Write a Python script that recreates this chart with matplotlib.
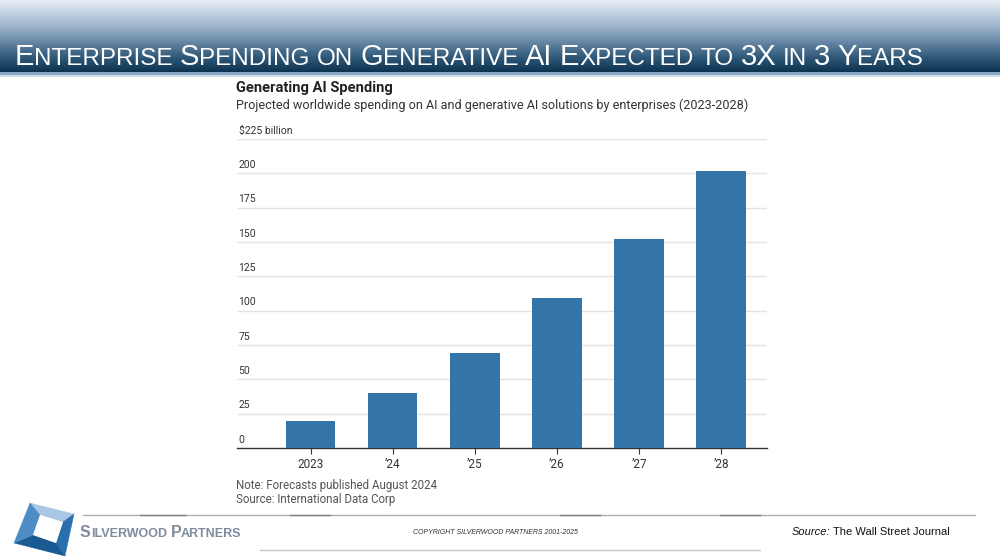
import numpy as np
import matplotlib
matplotlib.use("Agg")
import matplotlib.pyplot as plt
from matplotlib.patches import Polygon, Rectangle
from matplotlib.colors import LinearSegmentedColormap

# data
years = ["2023", "\u201924", "\u201925", "\u201926", "\u201927", "\u201928"]
spending = [20, 40, 69, 109, 152, 202]
y_ticks = [0, 25, 50, 75, 100, 125, 150, 175, 200, 225]
y_tick_labels = ["0", "25", "50", "75", "100", "125", "150", "175", "200", "$225 billion"]

title_parts = [("E", 1), ("NTERPRISE", 0), ("S", 1), ("PENDING", 0), ("ON", 0),
               ("G", 1), ("ENERATIVE", 0), ("AI", 1), ("E", 1), ("XPECTED", 0),
               ("TO", 0), ("3X", 1), ("IN", 0), ("3", 1), ("Y", 1), ("EARS", 0)]
word_break = [False, True, False, True, True, False, True, True, False, True,
              True, True, True, True, False, True]

W, H = 1000, 560
fig = plt.figure(figsize=(10, 5.6), dpi=100)
fig.patch.set_facecolor("white")

def px(x, y):
    return x / W, 1 - y / H

# header gradient band
bg = fig.add_axes([0, 0, 1, 1], zorder=-10)
bg.set_xlim(0, W)
bg.set_ylim(H, 0)
bg.axis("off")
cmap = LinearSegmentedColormap.from_list("hdr", [
    (0.0, "#e8eef5"), (0.25, "#b4c8dc"), (0.5, "#7d9ab6"),
    (0.8, "#2f5878"), (1.0, "#0c3350")])
grad = np.linspace(0, 1, 256).reshape(-1, 1)
bg.imshow(grad, cmap=cmap, extent=[0, W, 72, 0], aspect="auto")
bg.add_patch(Rectangle((0, 72), W, 3, color="#8aa8c6", lw=0))
bg.add_patch(Rectangle((0, 75), W, 2, color="#d5e0ea", lw=0))

# title in small caps
renderer = fig.canvas.get_renderer()
x = 15
big, small = 21, 17.5
for (txt, is_big), brk in zip(title_parts, word_break):
    t = bg.text(x, 65, txt, fontsize=big if is_big else small, color="white",
                family=["Liberation Sans", "DejaVu Sans"],
                ha="left", va="baseline")
    x += t.get_window_extent(renderer).width + (7 if brk else 0)

# chart
ax = fig.add_axes([237 / W, 1 - 448 / H, (767 - 237) / W, (448 - 139) / H])
ax.bar(range(len(years)), spending, width=0.6, color="#3375a8", zorder=3)
ax.set_xlim(-0.9, 5.56)
ax.set_ylim(0, 225)
for v in y_ticks[1:]:
    ax.axhline(v, color="#e3e3e3", lw=1, zorder=1)
for s in ["top", "right", "left"]:
    ax.spines[s].set_visible(False)
ax.spines["bottom"].set_color("#333333")
ax.spines["bottom"].set_linewidth(1)
ax.set_yticks([])
ax.set_xticks(range(len(years)))
ax.set_xticklabels(years, fontsize=8.5, color="#333333", family="Roboto")
ax.tick_params(axis="x", length=4, width=0.8, color="#333333", pad=3)
for v, lab in zip(y_ticks, y_tick_labels):
    ax.text(0.003, v + 2.5, lab, transform=ax.get_yaxis_transform(), fontsize=7.5,
            color="#333333", family="Roboto", ha="left", va="bottom")

fig.text(*px(236, 88), "Generating AI Spending", fontsize=10.6, fontweight="bold",
         color="#222222", family="Roboto", ha="left", va="center")
fig.text(*px(236, 105), "Projected worldwide spending on AI and generative AI solutions by enterprises (2023-2028)",
         fontsize=9.1, color="#333333", family="Roboto", ha="left", va="center")
fig.text(*px(236, 485), "Note: Forecasts published August 2024", fontsize=8.3,
         color="#555555", family="Roboto", ha="left", va="center")
fig.text(*px(236, 500), "Source: International Data Corp", fontsize=8.3,
         color="#555555", family="Roboto", ha="left", va="center")

# footer
bg.plot([83, 975], [515, 515], color="#b0b0b0", lw=1)
for a, b in [(140, 185), (290, 330), (560, 600), (720, 760)]:
    bg.plot([a, b], [515, 515], color="#808080", lw=1)
bg.plot([260, 760], [550, 550], color="#c8c8c8", lw=1)

outer = [(30, 503), (74, 514), (65, 556), (14, 543)]
inner = [(40, 515), (63, 522), (56, 543), (33, 535)]
shades = ["#a9c6e3", "#2a6fad", "#1a5a92", "#4d8cc4"]
for i in range(4):
    j = (i + 1) % 4
    bg.add_patch(Polygon([outer[i], outer[j], inner[j], inner[i]],
                         closed=True, facecolor=shades[i], edgecolor=shades[i], lw=0.3))
bg.add_patch(Polygon(inner, closed=True, facecolor="white", edgecolor="none"))

sx = 80
for txt, sz in [("S", 11.5), ("ILVERWOOD", 9), (" ", 9), ("P", 11.5), ("ARTNERS", 9)]:
    t = bg.text(sx, 537, txt, fontsize=sz, fontweight="bold", color="#7d8b9d",
                family="Liberation Sans", ha="left", va="baseline")
    sx += t.get_window_extent(renderer).width

bg.text(495, 533, "COPYRIGHT SILVERWOOD PARTNERS 2001-2025", fontsize=5, style="italic",
        color="#333333", family="Liberation Sans", ha="center", va="center")
t2 = bg.text(950, 532, "The Wall Street Journal", fontsize=8, color="#111111",
             family="Liberation Sans", ha="right", va="center")
w2 = t2.get_window_extent(renderer).width
bg.text(950 - w2 - 3, 532, "Source:", fontsize=8, style="italic", color="#111111",
        family="Liberation Sans", ha="right", va="center")

fig.savefig("out.png", dpi=100, facecolor="white")
